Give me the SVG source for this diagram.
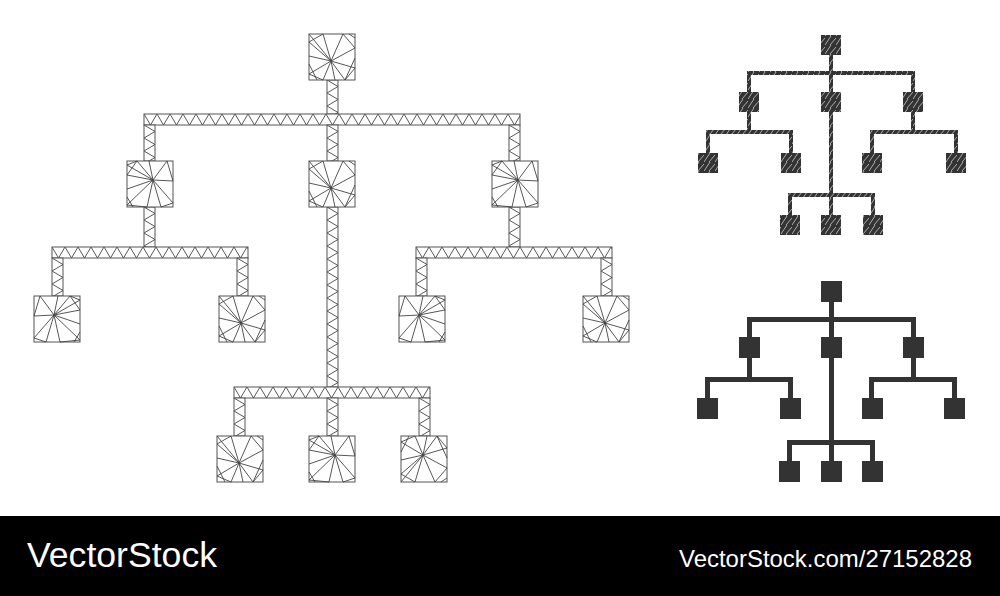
<svg xmlns="http://www.w3.org/2000/svg" xmlns:xlink="http://www.w3.org/1999/xlink" width="1000" height="596" viewBox="0 0 1000 596">
<style>
.box{fill:#fff;stroke:#555;stroke-width:1}
.mesh{fill:none;stroke:#444;stroke-width:0.9}
.hb{fill:url(#hz);stroke:#555;stroke-width:1}
.vb{fill:url(#vz);stroke:#555;stroke-width:1}
.dk{fill:#333}
.mo{fill:url(#mos)}
.lbl{font-family:"Liberation Sans",Arial,sans-serif;fill:#fff}
</style>
<defs>
<pattern id="hz" patternUnits="userSpaceOnUse" width="13" height="11"><rect width="13" height="11" fill="#fff"/><path d="M0,0L6.5,11L13,0" fill="none" stroke="#444" stroke-width="0.9"/></pattern>
<pattern id="vz" patternUnits="userSpaceOnUse" width="11" height="13"><rect width="11" height="13" fill="#fff"/><path d="M0,0L11,6.5L0,13" fill="none" stroke="#444" stroke-width="0.9"/></pattern>
<pattern id="mos" patternUnits="userSpaceOnUse" width="11" height="9"><path d="M0,9L6,0M5,9L11,2" fill="none" stroke="#fff" stroke-width="0.6"/></pattern>
<g id="meshA"><rect class="box" width="46" height="46"/><path class="mesh" d="M22,27L0,0M22,27L14,0M22,27L34,0M22,27L46,14M22,27L46,34M22,27L36,46M22,27L26,46M22,27L14,46M22,27L0,40M22,27L0,22M22,27L0,8M14,0L0,8M34,0L46,14M46,34L36,46M0,40L14,46M0,30L8,46M46,4L40,0M46,24L36,46"/></g>
<g id="meshB"><rect class="box" width="46" height="46"/><path class="mesh" d="M26,19L0,4M26,19L10,0M26,19L22,0M26,19L40,0M26,19L46,20M26,19L46,42M26,19L34,46M26,19L20,46M26,19L0,44M26,19L0,28M0,4L10,0M40,0L46,20M46,42L34,46M0,44L20,46M0,14L26,19M10,0L0,14M6,46L0,36"/></g>
</defs>
<rect width="1000" height="596" fill="#fff"/>
<g id="connectors">
<rect class="vb" transform="translate(327,80)" width="11" height="34"/>
<rect class="hb" transform="translate(144,114)" width="376" height="11"/>
<rect class="vb" transform="translate(144,125)" width="11" height="36"/>
<rect class="vb" transform="translate(327,125)" width="11" height="36"/>
<rect class="vb" transform="translate(509,125)" width="11" height="36"/>
<rect class="vb" transform="translate(144,207)" width="11" height="40"/>
<rect class="hb" transform="translate(52,247)" width="196" height="11"/>
<rect class="vb" transform="translate(52,258)" width="11" height="38"/>
<rect class="vb" transform="translate(237,258)" width="11" height="38"/>
<rect class="vb" transform="translate(509,207)" width="11" height="40"/>
<rect class="hb" transform="translate(416,247)" width="196" height="11"/>
<rect class="vb" transform="translate(416,258)" width="11" height="38"/>
<rect class="vb" transform="translate(601,258)" width="11" height="38"/>
<rect class="vb" transform="translate(327,207)" width="11" height="180"/>
<rect class="hb" transform="translate(234,387)" width="196" height="11"/>
<rect class="vb" transform="translate(234,398)" width="11" height="38"/>
<rect class="vb" transform="translate(327,398)" width="11" height="38"/>
<rect class="vb" transform="translate(419,398)" width="11" height="38"/>
<!-- mosaic connectors -->
<g class="dk">
<rect x="829" y="55" width="4" height="16"/><rect x="747" y="71" width="168" height="4"/>
<rect x="747" y="75" width="4" height="17"/><rect x="829" y="75" width="4" height="17"/><rect x="911" y="75" width="4" height="17"/>
<rect x="747" y="112" width="4" height="18"/><rect x="706" y="130" width="87" height="4"/>
<rect x="706" y="134" width="4" height="19"/><rect x="789" y="134" width="4" height="19"/>
<rect x="911" y="112" width="4" height="18"/><rect x="870" y="130" width="88" height="4"/>
<rect x="870" y="134" width="4" height="19"/><rect x="954" y="134" width="4" height="19"/>
<rect x="829" y="112" width="4" height="81"/><rect x="788" y="193" width="87" height="4"/>
<rect x="788" y="197" width="4" height="18"/><rect x="829" y="197" width="4" height="18"/><rect x="871" y="197" width="4" height="18"/>
</g>
<g class="mo">
<rect x="829" y="55" width="4" height="16"/><rect x="747" y="71" width="168" height="4"/>
<rect x="747" y="75" width="4" height="17"/><rect x="829" y="75" width="4" height="17"/><rect x="911" y="75" width="4" height="17"/>
<rect x="747" y="112" width="4" height="18"/><rect x="706" y="130" width="87" height="4"/>
<rect x="706" y="134" width="4" height="19"/><rect x="789" y="134" width="4" height="19"/>
<rect x="911" y="112" width="4" height="18"/><rect x="870" y="130" width="88" height="4"/>
<rect x="870" y="134" width="4" height="19"/><rect x="954" y="134" width="4" height="19"/>
<rect x="829" y="112" width="4" height="81"/><rect x="788" y="193" width="87" height="4"/>
<rect x="788" y="197" width="4" height="18"/><rect x="829" y="197" width="4" height="18"/><rect x="871" y="197" width="4" height="18"/>
</g>
<!-- solid connectors -->
<g class="dk">
<rect x="829" y="302" width="5" height="15"/><rect x="747" y="317" width="169" height="5"/>
<rect x="747" y="322" width="5" height="15"/><rect x="829" y="322" width="5" height="15"/><rect x="911" y="322" width="5" height="15"/>
<rect x="747" y="358" width="5" height="19"/><rect x="705" y="377" width="88" height="5"/>
<rect x="705" y="382" width="5" height="16"/><rect x="788" y="382" width="5" height="16"/>
<rect x="911" y="358" width="5" height="19"/><rect x="869" y="377" width="88" height="5"/>
<rect x="869" y="382" width="5" height="16"/><rect x="952" y="382" width="5" height="16"/>
<rect x="829" y="358" width="5" height="82"/><rect x="787" y="440" width="88" height="5"/>
<rect x="787" y="445" width="5" height="16"/><rect x="829" y="445" width="5" height="16"/><rect x="870" y="445" width="5" height="16"/>
</g>
</g>
<g id="mesh-root"><use xlink:href="#meshA" x="309" y="34"/></g>
<g id="mesh-l2-left"><use xlink:href="#meshB" x="127" y="161"/></g>
<g id="mesh-l2-center"><use xlink:href="#meshA" x="309" y="161"/></g>
<g id="mesh-l2-right"><use xlink:href="#meshB" x="492" y="161"/></g>
<g id="mesh-l3-a"><use xlink:href="#meshB" transform="translate(80,296) scale(-1,1)"/></g>
<g id="mesh-l3-b"><use xlink:href="#meshA" x="219" y="296"/></g>
<g id="mesh-l3-c"><use xlink:href="#meshB" transform="translate(445,296) scale(-1,1)"/></g>
<g id="mesh-l3-d"><use xlink:href="#meshA" x="583" y="296"/></g>
<g id="mesh-l4-a"><use xlink:href="#meshA" x="217" y="436"/></g>
<g id="mesh-l4-b"><use xlink:href="#meshB" x="309" y="436"/></g>
<g id="mesh-l4-c"><use xlink:href="#meshA" transform="translate(401,482) scale(1,-1)"/></g>
<g id="mosaic-nodes">
<g class="dk">
<rect x="821" y="35" width="20" height="20"/>
<rect x="739" y="92" width="20" height="20"/><rect x="821" y="92" width="20" height="20"/><rect x="903" y="92" width="20" height="20"/>
<rect x="698" y="153" width="20" height="20"/><rect x="781" y="153" width="20" height="20"/><rect x="862" y="153" width="20" height="20"/><rect x="946" y="153" width="20" height="20"/>
<rect x="780" y="215" width="20" height="20"/><rect x="821" y="215" width="20" height="20"/><rect x="863" y="215" width="20" height="20"/>
</g>
<g class="mo">
<rect x="821" y="35" width="20" height="20"/>
<rect x="739" y="92" width="20" height="20"/><rect x="821" y="92" width="20" height="20"/><rect x="903" y="92" width="20" height="20"/>
<rect x="698" y="153" width="20" height="20"/><rect x="781" y="153" width="20" height="20"/><rect x="862" y="153" width="20" height="20"/><rect x="946" y="153" width="20" height="20"/>
<rect x="780" y="215" width="20" height="20"/><rect x="821" y="215" width="20" height="20"/><rect x="863" y="215" width="20" height="20"/>
</g>
</g>
<g id="solid-nodes" class="dk">
<rect x="821" y="281" width="21" height="21"/>
<rect x="739" y="337" width="21" height="21"/><rect x="821" y="337" width="21" height="21"/><rect x="903" y="337" width="21" height="21"/>
<rect x="697" y="398" width="21" height="21"/><rect x="780" y="398" width="21" height="21"/><rect x="862" y="398" width="21" height="21"/><rect x="944" y="398" width="21" height="21"/>
<rect x="779" y="461" width="21" height="21"/><rect x="821" y="461" width="21" height="21"/><rect x="862" y="461" width="21" height="21"/>
</g>
<g id="footer">
<rect x="0" y="516" width="1000" height="80" fill="#000"/>
<text class="lbl" x="27" y="567" font-size="35" textLength="190" lengthAdjust="spacingAndGlyphs">VectorStock</text>
<text class="lbl" x="679" y="567" font-size="24" textLength="293" lengthAdjust="spacingAndGlyphs">VectorStock.com/27152828</text>
</g>
</svg>
